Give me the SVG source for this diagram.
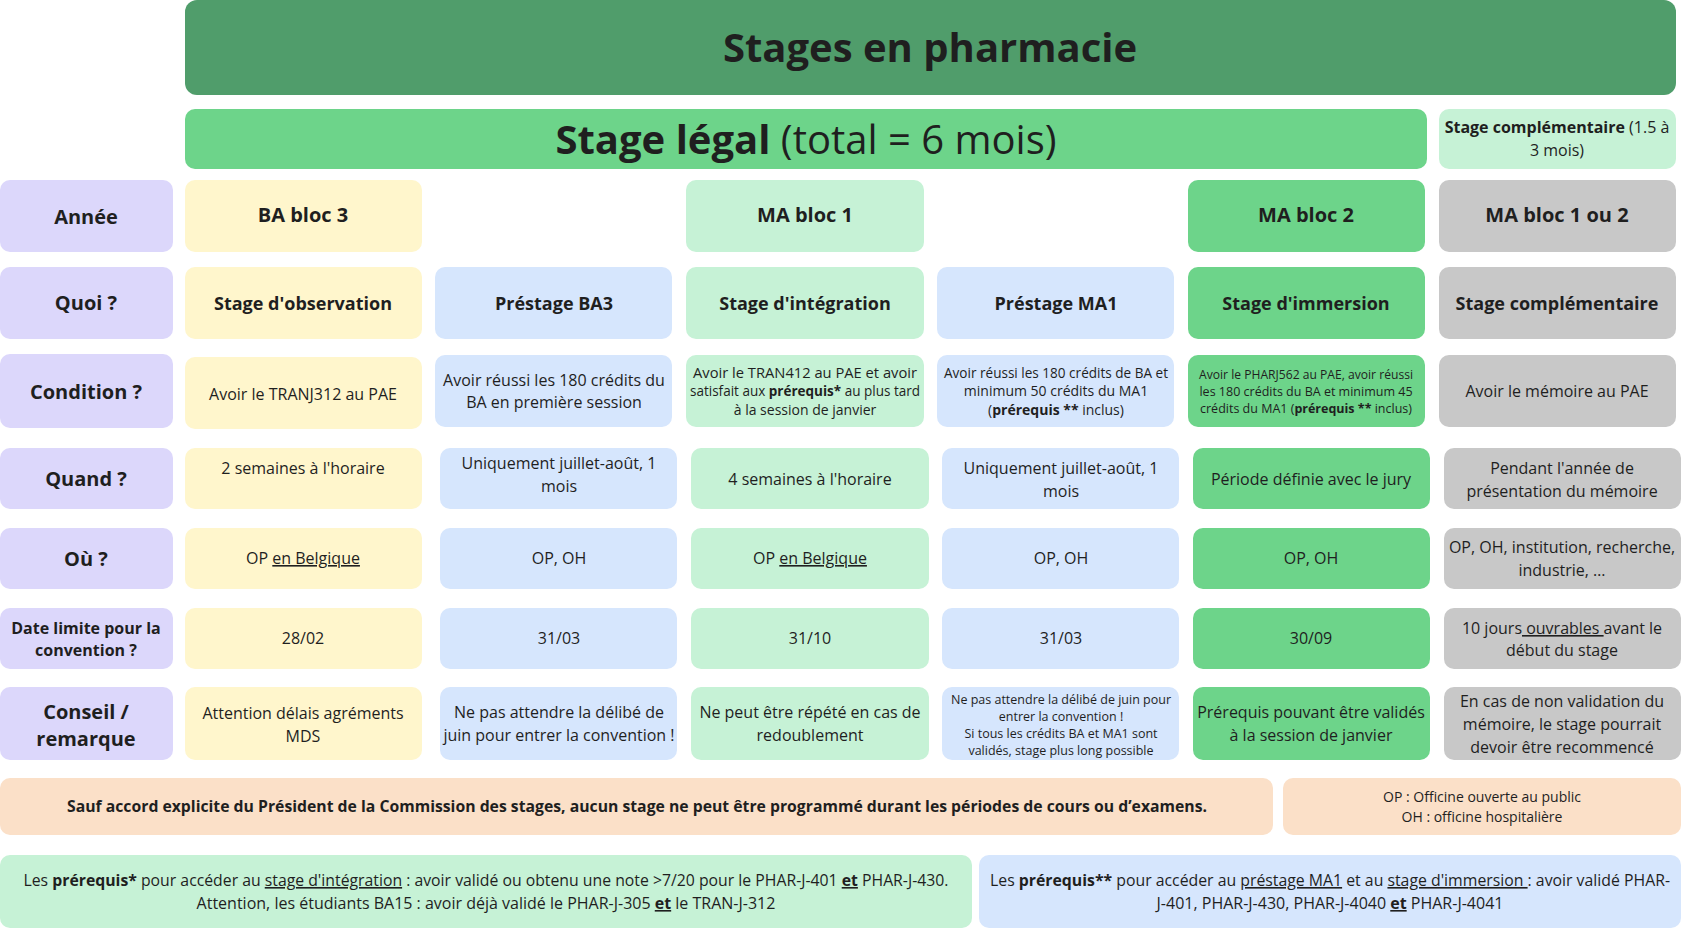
<svg xmlns="http://www.w3.org/2000/svg" width="1684" height="950" viewBox="0 0 1684 950">
<style>
text{font-family:"Open Sans","Noto Sans","Liberation Sans",sans-serif;fill:#1f1f1f;text-anchor:middle}
.h{font-weight:bold;font-size:20px}
.q{font-weight:bold;font-size:18px}
.b{font-size:16px}
.s{font-size:14px}
.xs{font-size:12.5px}
.bd{font-weight:bold}
.u{text-decoration:underline}
.lav{fill:#dcd7fb}.yel{fill:#fff6cc}.blu{fill:#d6e6fd}.lg{fill:#c6f2d6}.mg{fill:#6dd48a}.gr{fill:#c8c8c8}.or{fill:#fbe0c8}
</style>
<rect width="1684" height="950" fill="#fff"/>
<g id="title"><rect x="185" y="0" width="1491" height="95" rx="12" fill="#509d6b"/><text x="930" y="62" style="font-size:40px;font-weight:bold">Stages en pharmacie</text></g>
<g id="legal"><rect x="185" y="109" width="1242" height="60" rx="10" class="mg"/><text x="806" y="154" style="font-size:40px"><tspan class="bd">Stage légal</tspan> (total = 6 mois)</text></g>
<g id="compl"><rect x="1439" y="109" width="237" height="60" rx="10" class="lg"/><text x="1557" y="133" class="b"><tspan class="bd">Stage complémentaire</tspan> (1.5 à</text><text x="1557" y="156" class="b">3 mois)</text></g>
<g id="labels">
<rect x="0" y="180" width="173" height="72" rx="10" class="lav"/><text x="86" y="224" class="h">Année</text>
<rect x="0" y="267" width="173" height="72" rx="10" class="lav"/><text x="86" y="310" class="h">Quoi ?</text>
<rect x="0" y="354" width="173" height="74" rx="10" class="lav"/><text x="86" y="399" class="h">Condition ?</text>
<rect x="0" y="448" width="173" height="61" rx="10" class="lav"/><text x="86" y="486" class="h">Quand ?</text>
<rect x="0" y="528" width="173" height="61" rx="10" class="lav"/><text x="86" y="566" class="h">Où ?</text>
<rect x="0" y="608" width="173" height="61" rx="10" class="lav"/><text x="86" y="634" class="b bd">Date limite pour la</text><text x="86" y="656" class="b bd">convention ?</text>
<rect x="0" y="687" width="173" height="73" rx="10" class="lav"/><text x="86" y="719" class="h">Conseil /</text><text x="86" y="746" class="h">remarque</text>
</g>
<g id="annee">
<rect x="185" y="180" width="237" height="72" rx="10" class="yel"/><text x="303" y="222" class="h">BA bloc 3</text>
<rect x="686" y="180" width="238" height="72" rx="10" class="lg"/><text x="805" y="222" class="h">MA bloc 1</text>
<rect x="1188" y="180" width="237" height="72" rx="10" class="mg"/><text x="1306" y="222" class="h">MA bloc 2</text>
<rect x="1439" y="180" width="237" height="72" rx="10" class="gr"/><text x="1557" y="222" class="h">MA bloc 1 ou 2</text>
</g>
<g id="quoi">
<rect x="185" y="267" width="237" height="72" rx="10" class="yel"/><text x="303" y="310" class="q">Stage d'observation</text>
<rect x="435" y="267" width="237" height="72" rx="10" class="blu"/><text x="554" y="310" class="q">Préstage BA3</text>
<rect x="686" y="267" width="238" height="72" rx="10" class="lg"/><text x="805" y="310" class="q">Stage d'intégration</text>
<rect x="937" y="267" width="237" height="72" rx="10" class="blu"/><text x="1056" y="310" class="q">Préstage MA1</text>
<rect x="1188" y="267" width="237" height="72" rx="10" class="mg"/><text x="1306" y="310" class="q">Stage d'immersion</text>
<rect x="1439" y="267" width="237" height="72" rx="10" class="gr"/><text x="1557" y="310" class="q">Stage complémentaire</text>
</g>
<g id="condition">
<rect x="185" y="357" width="237" height="72" rx="10" class="yel"/><text x="303" y="400" class="b">Avoir le TRANJ312 au PAE</text>
<rect x="435" y="355" width="237" height="72" rx="10" class="blu"/><text x="554" y="386" class="b">Avoir réussi les 180 crédits du</text><text x="554" y="408" class="b">BA en première session</text>
<rect x="686" y="355" width="238" height="72" rx="10" class="lg"/><text x="805" y="378" class="s" textLength="224" lengthAdjust="spacingAndGlyphs">Avoir le TRAN412 au PAE et avoir</text><text x="805" y="396" class="s" textLength="230" lengthAdjust="spacingAndGlyphs">satisfait aux <tspan class="bd">prérequis*</tspan> au plus tard</text><text x="805" y="415" class="s">à la session de janvier</text>
<rect x="937" y="355" width="237" height="72" rx="10" class="blu"/><text x="1056" y="378" class="s" textLength="224" lengthAdjust="spacingAndGlyphs">Avoir réussi les 180 crédits de BA et</text><text x="1056" y="396" class="s">minimum 50 crédits du MA1</text><text x="1056" y="415" class="s">(<tspan class="bd">prérequis **</tspan> inclus)</text>
<rect x="1188" y="355" width="237" height="72" rx="10" class="mg"/><text x="1306" y="379" class="xs" textLength="214" lengthAdjust="spacingAndGlyphs">Avoir le PHARJ562 au PAE, avoir réussi</text><text x="1306" y="396" class="xs">les 180 crédits du BA et minimum 45</text><text x="1306" y="413" class="xs">crédits du MA1 (<tspan class="bd">prérequis **</tspan> inclus)</text>
<rect x="1439" y="355" width="237" height="72" rx="10" class="gr"/><text x="1557" y="397" class="b">Avoir le mémoire au PAE</text>
</g>
<g id="quand">
<rect x="185" y="448" width="237" height="61" rx="10" class="yel"/><text x="303" y="474" class="b">2 semaines à l'horaire</text>
<rect x="440" y="448" width="237" height="61" rx="10" class="blu"/><text x="559" y="469" class="b">Uniquement juillet-août, 1</text><text x="559" y="492" class="b">mois</text>
<rect x="691" y="448" width="238" height="61" rx="10" class="lg"/><text x="810" y="485" class="b">4 semaines à l'horaire</text>
<rect x="942" y="448" width="237" height="61" rx="10" class="blu"/><text x="1061" y="474" class="b">Uniquement juillet-août, 1</text><text x="1061" y="497" class="b">mois</text>
<rect x="1193" y="448" width="237" height="61" rx="10" class="mg"/><text x="1311" y="485" class="b">Période définie avec le jury</text>
<rect x="1444" y="448" width="237" height="61" rx="10" class="gr"/><text x="1562" y="474" class="b">Pendant l'année de</text><text x="1562" y="497" class="b">présentation du mémoire</text>
</g>
<g id="ou">
<rect x="185" y="528" width="237" height="61" rx="10" class="yel"/><text x="303" y="564" class="b">OP <tspan class="u">en Belgique</tspan></text>
<rect x="440" y="528" width="237" height="61" rx="10" class="blu"/><text x="559" y="564" class="b">OP, OH</text>
<rect x="691" y="528" width="238" height="61" rx="10" class="lg"/><text x="810" y="564" class="b">OP <tspan class="u">en Belgique</tspan></text>
<rect x="942" y="528" width="237" height="61" rx="10" class="blu"/><text x="1061" y="564" class="b">OP, OH</text>
<rect x="1193" y="528" width="237" height="61" rx="10" class="mg"/><text x="1311" y="564" class="b">OP, OH</text>
<rect x="1444" y="528" width="237" height="61" rx="10" class="gr"/><text x="1562" y="553" class="b">OP, OH, institution, recherche,</text><text x="1562" y="576" class="b">industrie, …</text>
</g>
<g id="date">
<rect x="185" y="608" width="237" height="61" rx="10" class="yel"/><text x="303" y="644" class="b">28/02</text>
<rect x="440" y="608" width="237" height="61" rx="10" class="blu"/><text x="559" y="644" class="b">31/03</text>
<rect x="691" y="608" width="238" height="61" rx="10" class="lg"/><text x="810" y="644" class="b">31/10</text>
<rect x="942" y="608" width="237" height="61" rx="10" class="blu"/><text x="1061" y="644" class="b">31/03</text>
<rect x="1193" y="608" width="237" height="61" rx="10" class="mg"/><text x="1311" y="644" class="b">30/09</text>
<rect x="1444" y="608" width="237" height="61" rx="10" class="gr"/><text x="1562" y="634" class="b">10 jours<tspan class="u"> ouvrables </tspan>avant le</text><text x="1562" y="656" class="b">début du stage</text>
</g>
<g id="conseil">
<rect x="185" y="687" width="237" height="73" rx="10" class="yel"/><text x="303" y="719" class="b">Attention délais agréments</text><text x="303" y="742" class="b">MDS</text>
<rect x="440" y="687" width="237" height="73" rx="10" class="blu"/><text x="559" y="718" class="b">Ne pas attendre la délibé de</text><text x="559" y="741" class="b">juin pour entrer la convention !</text>
<rect x="691" y="687" width="238" height="73" rx="10" class="lg"/><text x="810" y="718" class="b">Ne peut être répété en cas de</text><text x="810" y="741" class="b">redoublement</text>
<rect x="942" y="687" width="237" height="73" rx="10" class="blu"/><text x="1061" y="704" class="xs" textLength="220" lengthAdjust="spacingAndGlyphs">Ne pas attendre la délibé de juin pour</text><text x="1061" y="721" class="xs">entrer la convention !</text><text x="1061" y="738" class="xs">Si tous les crédits BA et MA1 sont</text><text x="1061" y="755" class="xs">validés, stage plus long possible</text>
<rect x="1193" y="687" width="237" height="73" rx="10" class="mg"/><text x="1311" y="718" class="b">Prérequis pouvant être validés</text><text x="1311" y="741" class="b">à la session de janvier</text>
<rect x="1444" y="687" width="237" height="73" rx="10" class="gr"/><text x="1562" y="707" class="b">En cas de non validation du</text><text x="1562" y="730" class="b">mémoire, le stage pourrait</text><text x="1562" y="753" class="b">devoir être recommencé</text>
</g>
<g id="sauf"><rect x="0" y="778" width="1273" height="57" rx="10" class="or"/><text x="637" y="812" class="b bd" textLength="1140" lengthAdjust="spacingAndGlyphs">Sauf accord explicite du Président de la Commission des stages, aucun stage ne peut être programmé durant les périodes de cours ou d’examens.</text></g>
<g id="legend"><rect x="1283" y="778" width="398" height="57" rx="10" class="or"/><text x="1482" y="802" class="s">OP : Officine ouverte au public</text><text x="1482" y="822" class="s">OH : officine hospitalière</text></g>
<g id="prereq1"><rect x="0" y="855" width="972" height="73" rx="10" class="lg"/><text x="486" y="886" class="b" textLength="925" lengthAdjust="spacingAndGlyphs">Les <tspan class="bd">prérequis*</tspan> pour accéder au <tspan class="u">stage d'intégration</tspan> : avoir validé ou obtenu une note &gt;7/20 pour le PHAR-J-401 <tspan class="bd u">et</tspan> PHAR-J-430.</text><text x="486" y="909" class="b">Attention, les étudiants BA15 : avoir déjà validé le PHAR-J-305 <tspan class="bd u">et</tspan> le TRAN-J-312</text></g>
<g id="prereq2"><rect x="979" y="855" width="702" height="73" rx="10" class="blu"/><text x="1330" y="886" class="b" textLength="680" lengthAdjust="spacingAndGlyphs">Les <tspan class="bd">prérequis**</tspan> pour accéder au <tspan class="u">préstage MA1</tspan> et au <tspan class="u">stage d'immersion </tspan>: avoir validé PHAR-</text><text x="1330" y="909" class="b">J-401, PHAR-J-430, PHAR-J-4040 <tspan class="bd u">et</tspan> PHAR-J-4041</text></g>
<g id="connectors"/>
</svg>
